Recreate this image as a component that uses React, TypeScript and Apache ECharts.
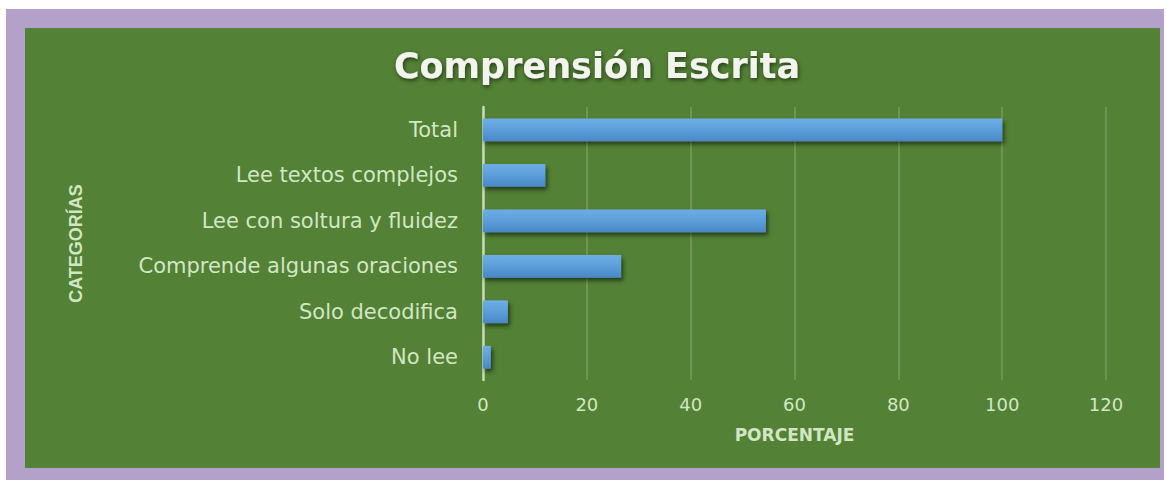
import React, { useEffect, useRef } from "react";
import * as echarts from "echarts";

const categories = [
  "No lee",
  "Solo decodifica",
  "Comprende algunas oraciones",
  "Lee con soltura y fluidez",
  "Lee textos complejos",
  "Total",
];
const values = [1.5, 4.8, 26.6, 54.5, 12, 100];
const titleText = "Comprensión Escrita";
const xAxisName = "PORCENTAJE";
const yAxisName = "CATEGORÍAS";

export default function App() {
  const ref = useRef<HTMLDivElement>(null);
  useEffect(() => {
    if (!ref.current) return;
    const chart = echarts.init(ref.current, undefined, { renderer: "svg" });
    const pale = "#d2e6c4";
    chart.setOption({
      animation: false,
      backgroundColor: "#ffffff",
      graphic: [
        { type: "rect", z: -10, shape: { x: 6, y: 9, width: 1158, height: 471 }, style: { fill: "#b3a1c9" } },
        { type: "rect", z: -9, shape: { x: 25, y: 28, width: 1135, height: 440 }, style: { fill: "#538135" } },
      ],
      title: {
        text: titleText,
        left: 592,
        textAlign: "center",
        top: 43,
        textStyle: {
          color: "#f4f4ee",
          fontFamily: "DejaVu Sans",
          fontWeight: "bold",
          fontSize: 35,
          textShadowColor: "rgba(0,0,0,0.55)",
          textShadowBlur: 4,
          textShadowOffsetX: 1,
          textShadowOffsetY: 2,
        },
      },
      grid: { left: 483, right: 60, top: 107, bottom: 100, containLabel: false },
      xAxis: {
        type: "value",
        min: 0,
        max: 120,
        interval: 20,
        name: xAxisName,
        nameLocation: "middle",
        nameGap: 46,
        nameTextStyle: { color: pale, fontFamily: "DejaVu Sans", fontWeight: "bold", fontSize: 17 },
        axisLine: { show: false },
        axisTick: { show: false },
        axisLabel: { color: pale, fontFamily: "DejaVu Sans", fontSize: 18, margin: 15 },
        splitLine: { lineStyle: { color: "rgba(255,255,255,0.22)", width: 1.5 } },
      },
      yAxis: {
        type: "category",
        data: categories,
        name: yAxisName,
        nameLocation: "middle",
        nameGap: 398,
        nameRotate: 90,
        nameTextStyle: {
          color: pale,
          fontFamily: "Liberation Sans Narrow, Liberation Sans",
          fontWeight: "bold",
          fontSize: 18,
        },
        axisLine: { show: true, lineStyle: { color: "#c8dbb8", width: 2.5 } },
        axisTick: { show: false },
        axisLabel: { color: pale, fontFamily: "DejaVu Sans", fontSize: 21, margin: 25 },
        splitLine: { show: false },
      },
      series: [
        {
          type: "bar",
          data: values,
          barWidth: "50%",
          itemStyle: {
            color: new echarts.graphic.LinearGradient(0, 0, 0, 1, [
              { offset: 0, color: "#6eaee6" },
              { offset: 0.5, color: "#5b9ed9" },
              { offset: 1, color: "#4a88c6" },
            ]),
            shadowColor: "rgba(0,0,0,0.55)",
            shadowBlur: 4,
            shadowOffsetX: 2,
            shadowOffsetY: 3,
          },
        },
      ],
    });
    return () => chart.dispose();
  }, []);
  return (
    <div
      ref={ref}
      style={{ position: "fixed", left: 0, top: 0, width: 1166, height: 480 }}
    />
  );
}
